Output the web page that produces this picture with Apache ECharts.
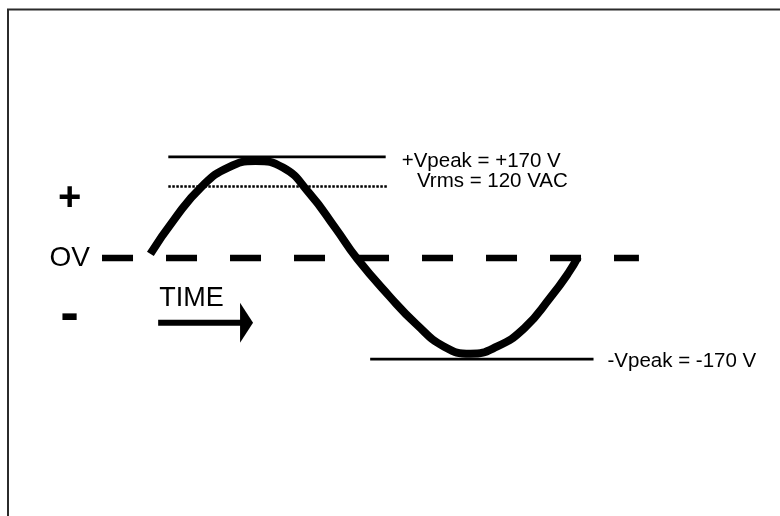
<!DOCTYPE html>
<html>
<head>
<meta charset="utf-8">
<script src="https://cdn.jsdelivr.net/npm/echarts@6.0.0/dist/echarts.min.js"></script>
<style>
html, body { margin: 0; padding: 0; background: #fff; }
#main { width: 780px; height: 516px; }
</style>
</head>
<body>
<div id="main"></div>
<script>
// one AC cycle, time in degrees and voltage in volts
var waveTime  = [2, 22, 45, 67, 90, 113, 135, 157, 175, 202, 225, 248, 270, 292, 315, 337, 352, 360];
var waveVolts = [7, 65, 120, 152, 163, 152, 109, 50, -1, -64, -112, -149, -161, -149, -118, -66, -25, 2];

// reference levels
var peakVolts = 170;
var rmsVolts = 120;
var levelTicks = [100, 0, -100];
var levelLabels = ['+', 'OV', '-'];

// extent of each guide line along the time axis (degrees)
var peakSpan = [17, 199];
var rmsSpan = [17, 200];
var troughSpan = [186, 373];
var zeroSpan = [-38.5, 411];
var timeSpan = [8.5, 82.5];
var timeArrowVolts = -109;

var FONT = 'Liberation Sans';

var dom = document.getElementById('main');
var myChart = echarts.init(dom);

function guide(span, v, lineStyle, endLabel) {
    var end = { value: [span[1], v] };
    if (endLabel) end.label = endLabel;
    lineStyle.color = '#000';
    return {
        type: 'line',
        data: [[span[0], v], end],
        symbol: 'circle',
        symbolSize: 0,
        showSymbol: true,
        clip: false,
        silent: true,
        itemStyle: { color: '#000' },
        lineStyle: lineStyle
    };
}

function textLabel(text, distance, offset) {
    return {
        show: true, position: 'right', distance: distance, offset: offset,
        formatter: text, fontFamily: FONT, fontSize: 20.5, color: '#000'
    };
}

var wave = waveTime.map(function (t, i) { return [t, waveVolts[i]]; });

var option = {
    animation: false,
    backgroundColor: '#fff',
    grid: [
        { left: 4.67, right: 58.67, top: 139, bottom: 139, outerBoundsMode: 'none' },
        // the frame round the drawing, its right and bottom sides fall outside the page
        { show: true, left: 8, top: 9.5, width: 900, height: 700, outerBoundsMode: 'none',
          borderColor: '#2b2b2b', borderWidth: 2, backgroundColor: 'transparent' }
    ],
    xAxis: [
        { type: 'value', min: -120, max: 480, show: false },
        { type: 'value', gridIndex: 1, show: false }
    ],
    yAxis: [
        {
            type: 'value', min: -200, max: 200, interval: 100, offset: -65,
            axisLine: { show: false }, axisTick: { show: false }, splitLine: { show: false },
            axisLabel: {
                align: 'center', margin: 0,
                formatter: function (v) {
                    var i = levelTicks.indexOf(v);
                    if (i < 0) return '';
                    var key = ['p', 'z', 'm'][i];
                    return '{' + key + '|' + levelLabels[i] + '}';
                },
                rich: {
                    p: { fontFamily: FONT, fontSize: 40, fontWeight: 'bold', color: '#000' },
                    z: { fontFamily: FONT, fontSize: 28, color: '#000' },
                    m: { fontFamily: FONT, fontSize: 56, fontWeight: 'bold', color: '#000', padding: [0, 0, 4, 0] }
                }
            }
        },
        { type: 'value', gridIndex: 1, show: false }
    ],
    series: [
        guide(zeroSpan, 0, { width: 6.5, type: [31, 33] }),
        guide(peakSpan, peakVolts, { width: 2.8 },
            textLabel('+Vpeak = +' + peakVolts + ' V', 16, [0, 4])),
        guide(rmsSpan, rmsVolts, { width: 2.5, type: [2.5, 1.5] },
            textLabel('Vrms = ' + rmsVolts + ' VAC', 30, [0, -5])),
        guide(troughSpan, -peakVolts, { width: 2.8 },
            textLabel('-Vpeak = -' + peakVolts + ' V', 14, [0, 2])),
        {
            type: 'line',
            data: [
                { value: [timeSpan[0], timeArrowVolts],
                  label: { show: true, position: 'right', distance: 1, offset: [0, -24],
                           formatter: 'TIME', fontFamily: FONT, fontSize: 27, color: '#000' } },
                { value: [timeSpan[1], timeArrowVolts],
                  symbol: 'triangle', symbolSize: [40, 13], symbolRotate: -90 }
            ],
            symbol: 'circle',
            symbolSize: 0,
            showSymbol: true,
            clip: false,
            silent: true,
            itemStyle: { color: '#000' },
            lineStyle: { color: '#000', width: 6 }
        },
        {
            type: 'line',
            data: wave,
            smooth: 0.5,
            smoothConstraint: false,
            showSymbol: false,
            clip: false,
            silent: true,
            z: 5,
            lineStyle: { color: '#000', width: 8 }
        }
    ]
};

if (option && typeof option === 'object') {
    myChart.setOption(option, true);
}
window.onresize = myChart.resize;
</script>
</body>
</html>
